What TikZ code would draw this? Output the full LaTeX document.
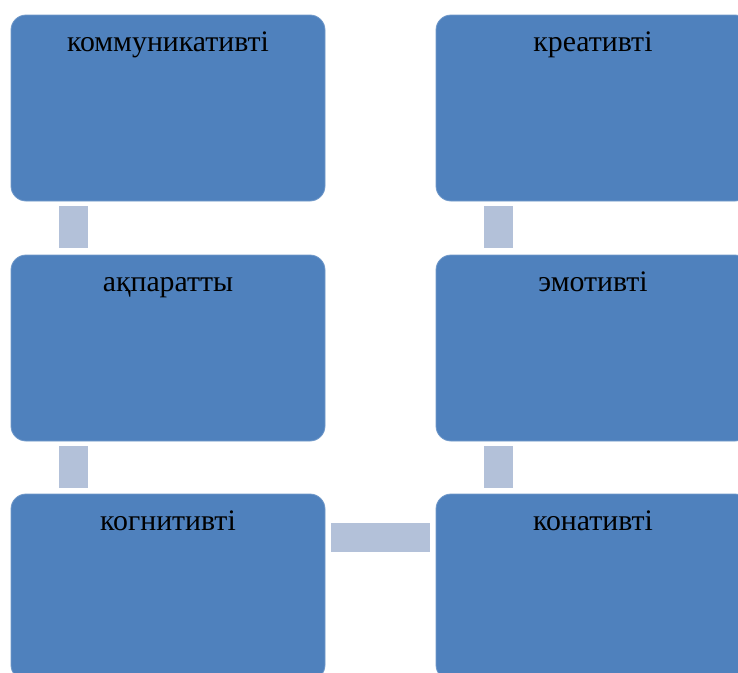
\documentclass[tikz,border=0pt]{standalone}
\usepackage{fontspec}
\setmainfont{Liberation Serif}
\definecolor{boxblue}{HTML}{4F81BD}
\definecolor{connblue}{HTML}{B3C1D9}
\begin{document}
\begin{tikzpicture}[x=1pt,y=-1pt,
  box/.style={draw=boxblue!80!white, line width=0.8pt, fill=boxblue, rounded corners=15pt, minimum width=314pt, minimum height=186pt, inner sep=0pt},
  lbl/.style={anchor=base, font=\fontsize{29.8}{34}\selectfont, text=black, inner sep=0pt},
  conn/.style={draw=connblue, line width=29pt, line cap=butt}]
\useasboundingbox (0,0) rectangle (738,672);
\clip (0,0) rectangle (738,672);
\fill[white] (0,0) rectangle (738,672);
\node[box] (b1) at (168,108) {};
\node[box] (b2) at (168,348) {};
\node[box] (b3) at (168,587) {};
\node[box] (c1) at (593,108) {};
\node[box] (c2) at (593,348) {};
\node[box] (c3) at (593,587) {};
\node[lbl] (t1) at ([yshift=-37pt]b1.north) {коммуникативті};
\node[lbl] (t2) at ([yshift=-37pt]b2.north) {ақпаратты};
\node[lbl] (t3) at ([yshift=-37pt]b3.north) {когнитивті};
\node[lbl] (u1) at ([yshift=-37pt]c1.north) {креативті};
\node[lbl] (u2) at ([yshift=-37pt]c2.north) {эмотивті};
\node[lbl] (u3) at ([yshift=-37pt]c3.north) {конативті};
\draw[conn, shorten <=5pt, shorten >=7pt] ([xshift=62.5pt]b1.south west) -- ([xshift=62.5pt]b2.north west);
\draw[conn, shorten <=5pt, shorten >=6pt] ([xshift=62.5pt]b2.south west) -- ([xshift=62.5pt]b3.north west);
\draw[conn, shorten <=5pt, shorten >=7pt] ([xshift=62.5pt]c1.south west) -- ([xshift=62.5pt]c2.north west);
\draw[conn, shorten <=5pt, shorten >=6pt] ([xshift=62.5pt]c2.south west) -- ([xshift=62.5pt]c3.north west);
\draw[conn, shorten <=6pt, shorten >=6pt] ([yshift=-44pt]b3.north east) -- ([yshift=-44pt]c3.north west);
\end{tikzpicture}
\end{document}
